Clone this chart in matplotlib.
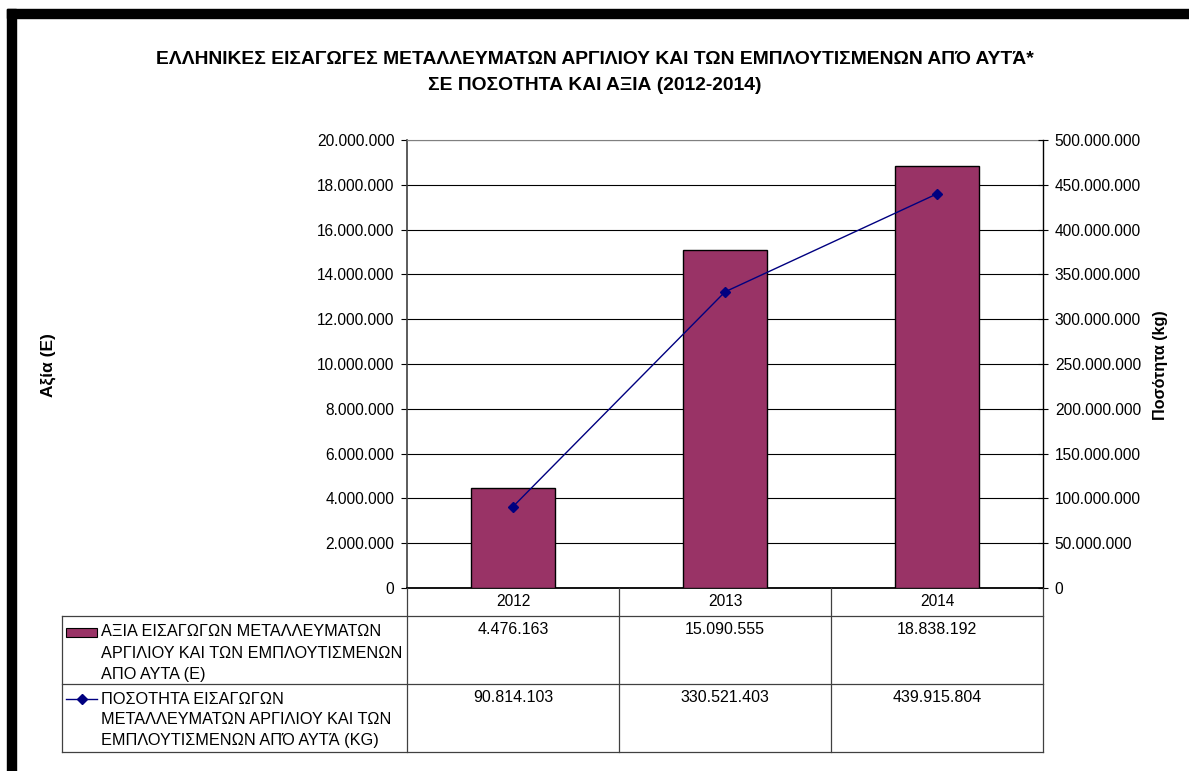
import matplotlib
matplotlib.use("Agg")
import matplotlib.pyplot as plt
import matplotlib.transforms as mtransforms
from matplotlib.lines import Line2D
from matplotlib.patches import Rectangle
from matplotlib.ticker import FuncFormatter, MultipleLocator

years = ["2012", "2013", "2014"]
value_eur = [4476163, 15090555, 18838192]
quantity_kg = [90814103, 330521403, 439915804]

title = ("ΕΛΛΗΝΙΚΕΣ ΕΙΣΑΓΩΓΕΣ ΜΕΤΑΛΛΕΥΜΑΤΩΝ ΑΡΓΙΛΙΟΥ ΚΑΙ ΤΩΝ ΕΜΠΛΟΥΤΙΣΜΕΝΩΝ ΑΠΌ ΑΥΤΆ*\n"
         "ΣΕ ΠΟΣΟΤΗΤΑ ΚΑΙ ΑΞΙΑ (2012-2014)")
bar_label = ["ΑΞΙΑ ΕΙΣΑΓΩΓΩΝ ΜΕΤΑΛΛΕΥΜΑΤΩΝ",
             "ΑΡΓΙΛΙΟΥ ΚΑΙ ΤΩΝ ΕΜΠΛΟΥΤΙΣΜΕΝΩΝ",
             "ΑΠΟ ΑΥΤΑ (Ε)"]
line_label = ["ΠΟΣΟΤΗΤΑ ΕΙΣΑΓΩΓΩΝ",
              "ΜΕΤΑΛΛΕΥΜΑΤΩΝ ΑΡΓΙΛΙΟΥ ΚΑΙ ΤΩΝ",
              "ΕΜΠΛΟΥΤΙΣΜΕΝΩΝ ΑΠΌ ΑΥΤΆ (KG)"]

BAR_COLOR = "#993366"
LINE_COLOR = "#000080"
W, H = 1189, 771

plt.rcParams["font.family"] = ["Liberation Sans", "DejaVu Sans"]


def fx(px):
    return px / W


def fy(px):
    return 1 - px / H


def dots(v, pos=None):
    return f"{int(v):,}".replace(",", ".")


fig = plt.figure(figsize=(W / 100, H / 100), dpi=100)

# thick frame at top / left
fig.patches.append(Rectangle((fx(7), fy(18)), fx(1189 - 7), 9 / H, transform=fig.transFigure,
                             color="black", zorder=0))
fig.patches.append(Rectangle((fx(7), 0), 9 / W, fy(9), transform=fig.transFigure,
                             color="black", zorder=0))

ax = fig.add_axes([fx(407), fy(588), fx(1043 - 407), (588 - 140) / H])
x = range(len(years))
ax.bar(x, value_eur, width=0.4, color=BAR_COLOR, edgecolor="black", linewidth=1.0, zorder=3)
ax.set_xlim(-0.5, 2.5)
ax.set_ylim(0, 20_000_000)
ax.yaxis.set_major_locator(MultipleLocator(2_000_000))
ax.yaxis.set_major_formatter(FuncFormatter(dots))
ax.set_xticks([])
ax.grid(axis="y", color="black", linewidth=0.8, zorder=0)
ax.tick_params(axis="y", direction="out", length=4, width=0.8, pad=5, labelsize=11.2)
ax.spines["top"].set_color("#808080")
ax.spines["left"].set_color("#404040")
ax.spines["left"].set_linewidth(1.2)
ax.spines["bottom"].set_linewidth(1.3)
ax.spines["right"].set_visible(False)

ax2 = ax.twinx()
ax2.plot(x, quantity_kg, color=LINE_COLOR, linewidth=1.0, marker="D", markersize=5.5,
         zorder=4)
ax2.set_ylim(0, 500_000_000)
ax2.yaxis.set_major_locator(MultipleLocator(50_000_000))
ax2.yaxis.set_major_formatter(FuncFormatter(dots))
ax2.tick_params(axis="y", direction="inout", length=7, width=0.8, pad=5, labelsize=11.2)
for s in ["top", "left", "bottom"]:
    ax2.spines[s].set_visible(False)
ax2.spines["right"].set_linewidth(1.0)

fig.text(0.5, fy(60), title.split("\n")[0], ha="center", va="center",
         fontsize=13.9, fontweight="bold")
fig.text(0.5, fy(85), title.split("\n")[1], ha="center", va="center",
         fontsize=13.9, fontweight="bold")
fig.text(fx(48), fy(365), "Αξία (Ε)", rotation=90, ha="center", va="center",
         fontsize=12.5, fontweight="bold")
fig.text(fx(1160), fy(365), "Ποσότητα (kg)", rotation=90, ha="center", va="center",
         fontsize=11.6, fontweight="bold")

# data table below the axes
tr = mtransforms.blended_transform_factory(ax.transData, fig.transFigure)
lc = "#404040"
edges = [i - 0.5 for i in range(len(years) + 1)]
for e in edges:
    fig.add_artist(Line2D([e, e], [fy(588), fy(752)], transform=tr, color=lc, linewidth=0.9))
fig.add_artist(Line2D([fx(62), fx(62)], [fy(616), fy(752)], transform=fig.transFigure,
                      color=lc, linewidth=0.9))
for yy in [616, 684, 752]:
    fig.add_artist(Line2D([fx(62), fx(1043)], [fy(yy), fy(yy)], transform=fig.transFigure,
                          color=lc, linewidth=0.9))

for i, yr in enumerate(years):
    fig.text(i, fy(602), yr, transform=tr, ha="center", va="center", fontsize=11.2)
    fig.text(i, fy(630), dots(value_eur[i]), transform=tr, ha="center", va="center",
             fontsize=11.5)
    fig.text(i, fy(697), dots(quantity_kg[i]), transform=tr, ha="center", va="center",
             fontsize=11.5)

fig.patches.append(Rectangle((fx(66), fy(637)), 31 / W, 9 / H, transform=fig.transFigure,
                             facecolor=BAR_COLOR, edgecolor="black", linewidth=0.8))
fig.add_artist(Line2D([fx(66), fx(97)], [fy(699), fy(699)], transform=fig.transFigure,
                      color=LINE_COLOR, linewidth=1.0))
fig.add_artist(Line2D([fx(81.5)], [fy(699)], transform=fig.transFigure, color=LINE_COLOR,
                      marker="D", markersize=5.5))
for j, line in enumerate(bar_label):
    fig.text(fx(101), fy(632 + 21 * j), line, ha="left", va="center", fontsize=11.7)
for j, line in enumerate(line_label):
    fig.text(fx(101), fy(699 + 21 * j), line, ha="left", va="center", fontsize=11.7)

fig.savefig("out.png", dpi=100)
